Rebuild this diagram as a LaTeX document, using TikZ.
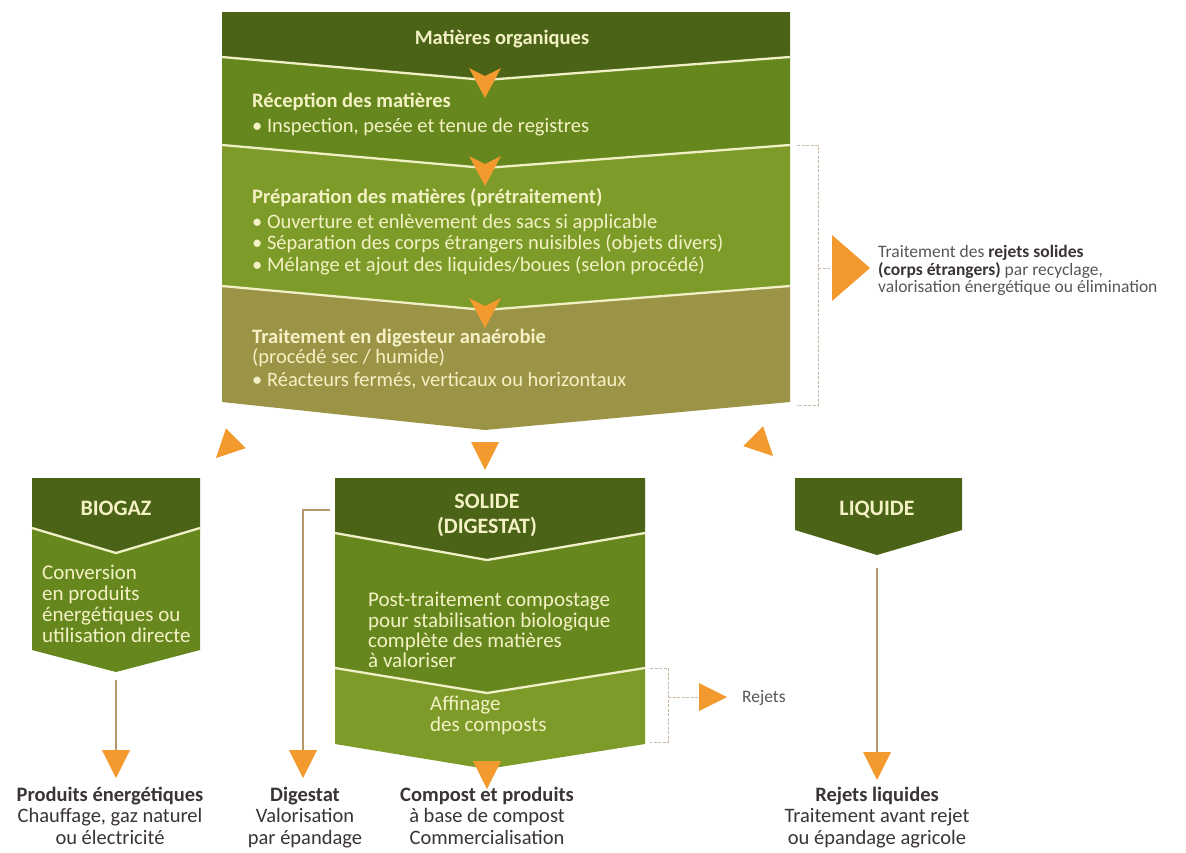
\documentclass[tikz,border=0pt]{standalone}
\usepackage{fontspec}
\setmainfont{Carlito}
\definecolor{hdark}{HTML}{4B6317}
\definecolor{greenA}{HTML}{66871E}
\definecolor{greenB}{HTML}{7C9B29}
\definecolor{olive}{HTML}{9B9345}
\definecolor{sepc}{HTML}{F1EFC6}
\definecolor{cream}{HTML}{F4F1C4}
\definecolor{arrowc}{HTML}{F29A2E}
\definecolor{connc}{HTML}{B9976A}
\definecolor{brc}{HTML}{C9B7A4}
\definecolor{darktxt}{HTML}{3A3434}
\definecolor{greytxt}{HTML}{5A5656}
\tikzset{
  boxtxt/.style={text=cream, font=\fontsize{20.5}{22}\selectfont, inner sep=0pt, anchor=base west},
  boxtitle/.style={text=cream, font=\bfseries\fontsize{20.5}{22}\selectfont, inner sep=0pt, anchor=base west},
  lowtxt/.style={text=cream, font=\fontsize{21}{22}\selectfont, inner sep=0pt, anchor=base west},
  boxhead/.style={text=cream, font=\bfseries\fontsize{20.5}{22}\selectfont, inner sep=0pt, anchor=base},
  caphead/.style={text=cream, font=\bfseries\fontsize{22}{24}\selectfont, inner sep=0pt, anchor=base},
  outtxt/.style={text=darktxt, font=\fontsize{20.5}{22}\selectfont, inner sep=0pt, anchor=base},
  outtitle/.style={text=darktxt, font=\bfseries\fontsize{20.5}{22}\selectfont, inner sep=0pt, anchor=base},
  sidetxt/.style={text=greytxt, font=\fontsize{17.5}{19}\selectfont, inner sep=0pt, anchor=base west},
  sepline/.style={draw=sepc, line width=2.3pt},
  conn/.style={draw=connc, line width=1.6pt},
  bracket/.style={draw=brc, line width=0.8pt, dash pattern=on 3pt off 1.5pt},
  headtri/.pic={\fill[arrowc] (0,0) -- (-28,14) -- (-28,-14) -- cycle;},
  notchtri/.pic={\fill[arrowc] (0,0) -- (-30,16) -- (-22,0) -- (-30,-16) -- cycle;},
}
\begin{document}
\begin{tikzpicture}[x=1pt,y=1pt]
\useasboundingbox (0,0) rectangle (1186,-852);
\clip (0,0) rectangle (1186,-852);
\fill[white] (0,0) rectangle (1186,-852);

% ---- main process column ----
\fill[hdark]  (222,-12) -- (790,-12) -- (790,-57) -- (485,-80) -- (222,-57) -- cycle;
\fill[greenA] (222,-57) -- (485,-80) -- (790,-57) -- (790,-145) -- (485,-168) -- (222,-145) -- cycle;
\fill[greenB] (222,-145) -- (485,-168) -- (790,-145) -- (790,-286) -- (485,-310) -- (222,-286) -- cycle;
\fill[olive]  (222,-286) -- (485,-310) -- (790,-286) -- (790,-402) -- (485,-430) -- (222,-402) -- cycle;
\draw[sepline] (222,-57) -- (485,-80) -- (790,-57);
\draw[sepline] (222,-145) -- (485,-168) -- (790,-145);
\draw[sepline] (222,-286) -- (485,-310) -- (790,-286);
\pic[rotate=-90] at (485,-98) {notchtri};
\pic[rotate=-90] at (485,-186) {notchtri};
\pic[rotate=-90] at (485,-328) {notchtri};

\node[boxhead] (mat) at (502,-44) {Matières organiques};
\node[boxtitle] (rec1) at (252,-107) {Réception des matières};
\node[boxtxt]   (rec2) at (252,-132) {• Inspection, pesée et tenue de registres};
\node[boxtitle] (pre1) at (252,-203) {Préparation des matières (prétraitement)};
\node[boxtxt]   (pre2) at (252,-228) {• Ouverture et enlèvement des sacs si applicable};
\node[boxtxt]   (pre3) at (252,-249) {• Séparation des corps étrangers nuisibles (objets divers)};
\node[boxtxt]   (pre4) at (252,-271) {• Mélange et ajout des liquides/boues (selon procédé)};
\node[boxtitle] (dig1) at (252,-343) {Traitement en digesteur anaérobie};
\node[boxtxt]   (dig2) at (252,-363) {(procédé sec / humide)};
\node[boxtxt]   (dig3) at (252,-386) {• Réacteurs fermés, verticaux ou horizontaux};

% ---- solid rejects bracket ----
\draw[bracket] (797,-145) -- (818,-145) -- (818,-405) -- (797,-405);
\draw[bracket] (818,-268) -- (832,-268);
\coordinate (rtip) at (870,-268);
\fill[arrowc] (rtip) -- ++(-38,33) -- ++(0,-66) -- cycle;
\node[sidetxt] (rs1) at (878,-257) {Traitement des \textbf{\color{darktxt}rejets solides}};
\node[sidetxt] (rs2) at (878,-275) {\textbf{\color{darktxt}(corps étrangers)} par recyclage,};
\node[sidetxt] (rs3) at (878,-292) {valorisation énergétique ou élimination};

% ---- three outputs of the digester ----
\pic[rotate=-135] at (216,-458) {headtri};
\pic[rotate=-90]  at (485,-470) {headtri};
\pic[rotate=-45]  at (773,-456) {headtri};

% BIOGAZ
\fill[hdark]  (32,-478) -- (200,-478) -- (200,-528) -- (116,-553) -- (32,-528) -- cycle;
\fill[greenA] (32,-528) -- (116,-553) -- (200,-528) -- (200,-650) -- (116,-672) -- (32,-650) -- cycle;
\draw[sepline] (32,-528) -- (116,-553) -- (200,-528);
\node[caphead] (bio) at (116,-515) {BIOGAZ};
\node[lowtxt] (bio1) at (42,-579) {Conversion};
\node[lowtxt] (bio2) at (42,-600) {en produits};
\node[lowtxt] (bio3) at (42,-621) {énergétiques ou};
\node[lowtxt] (bio4) at (42,-642) {utilisation directe};
\coordinate (bioTip) at (116,-680);
\coordinate (bioEnd) at (116,-778);
\draw[conn] (bioTip) -- ([yshift=20]bioEnd);
\pic[rotate=-90] at (bioEnd) {headtri};
\node[outtitle] (pe1) at (110,-801) {Produits énergétiques};
\node[outtxt]   (pe2) at (110,-822) {Chauffage, gaz naturel};
\node[outtxt]   (pe3) at (110,-844) {ou électricité};

% SOLIDE (DIGESTAT)
\fill[hdark]  (335,-478) -- (645,-478) -- (645,-533) -- (487,-560) -- (335,-533) -- cycle;
\fill[greenA] (335,-533) -- (487,-560) -- (645,-533) -- (645,-668) -- (487,-693) -- (335,-668) -- cycle;
\fill[greenB] (335,-668) -- (487,-693) -- (645,-668) -- (645,-744) -- (487,-769) -- (335,-744) -- cycle;
\draw[sepline] (335,-533) -- (487,-560) -- (645,-533);
\draw[sepline] (335,-668) -- (487,-693) -- (645,-668);
\node[caphead] (sol1) at (487,-508) {SOLIDE};
\node[caphead] (sol2) at (487,-533) {(DIGESTAT)};
\node[lowtxt] (pt1) at (368,-606) {Post-traitement compostage};
\node[lowtxt] (pt2) at (368,-627) {pour stabilisation biologique};
\node[lowtxt] (pt3) at (368,-647) {complète des matières};
\node[lowtxt] (pt4) at (368,-667) {à valoriser};
\node[lowtxt] (af1) at (430,-710) {Affinage};
\node[lowtxt] (af2) at (430,-731) {des composts};
\pic[rotate=-90] at (487,-789) {headtri};
\node[outtitle] (cp1) at (487,-801) {Compost et produits};
\node[outtxt]   (cp2) at (487,-822) {à base de compost};
\node[outtxt]   (cp3) at (487,-844) {Commercialisation};

% raw digestate branch
\coordinate (digStart) at (330,-510);
\coordinate (digCorner) at (303,-510);
\coordinate (digEnd) at (303,-778);
\draw[conn] (digStart) -- (digCorner) -- ([yshift=20]digEnd);
\pic[rotate=-90] at (digEnd) {headtri};
\node[outtitle] (dg1) at (305,-801) {Digestat};
\node[outtxt]   (dg2) at (305,-822) {Valorisation};
\node[outtxt]   (dg3) at (305,-844) {par épandage};

% refining rejects
\draw[bracket] (650,-668) -- (668,-668) -- (668,-742) -- (650,-742);
\draw[bracket] (668,-697) -- (698,-697);
\coordinate (rjTip) at (727,-697);
\pic at (rjTip) {headtri};
\node[sidetxt] (rej) at (742,-702) {Rejets};

% LIQUIDE
\fill[hdark] (795,-478) -- (962,-478) -- (962,-530) -- (877,-555) -- (795,-530) -- cycle;
\node[caphead] (liq) at (877,-515) {LIQUIDE};
\coordinate (liqTip) at (877,-568);
\coordinate (liqEnd) at (877,-780);
\draw[conn] (liqTip) -- ([yshift=20]liqEnd);
\pic[rotate=-90] at (liqEnd) {headtri};
\node[outtitle] (rl1) at (877,-801) {Rejets liquides};
\node[outtxt]   (rl2) at (877,-822) {Traitement avant rejet};
\node[outtxt]   (rl3) at (877,-844) {ou épandage agricole};
\end{tikzpicture}
\end{document}
